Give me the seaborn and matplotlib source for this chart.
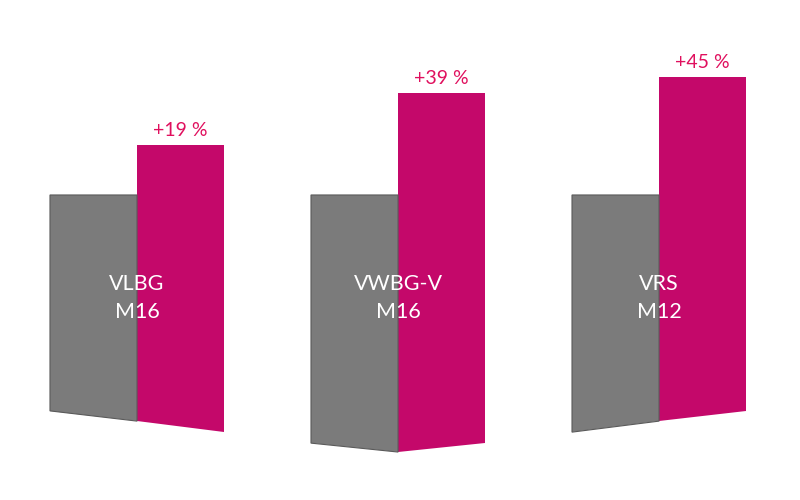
import matplotlib
matplotlib.use("Agg")
import matplotlib.pyplot as plt
from matplotlib.patches import Polygon
import seaborn as sns
import pandas as pd

# ---- data ----
regions = ["VLBG\nM16", "VWBG-V\nM16", "VRS\nM12"]
before = [100, 100, 100]
after = [119, 139, 145]
increase_labels = ["+19 %", "+39 %", "+45 %"]

# ---- style: perspective slant of the bar bottoms (left, middle, right) ----
bottom_slant = [(17.6, 13.7, 9.5), (5.3, 1.9, 5.3), (9.5, 13.7, 17.6)]
gray = "#7b7b7b"
magenta = "#c4086a"
label_pink = "#e0105e"

df = pd.DataFrame({
    "region": regions * 2,
    "series": ["before"] * 3 + ["after"] * 3,
    "value": before + after,
})

sns.set_theme(style="white")
plt.rcParams["font.family"] = ["Lato", "DejaVu Sans"]

fig = plt.figure(figsize=(8, 5), dpi=100)
ax = fig.add_axes([0, 0, 1, 1])
sns.barplot(data=df, x="region", y="value", hue="series",
            palette={"before": gray, "after": magenta},
            width=0.667, saturation=1, legend=False, ax=ax,
            linewidth=0)

for si, cont in enumerate(ax.containers):
    for i, bar in enumerate(cont):
        x0 = bar.get_x()
        w = bar.get_width()
        h = bar.get_height()
        l, m, r = bottom_slant[i]
        if si == 0:
            yl, yr = l, m
        else:
            yl, yr = m, r
        verts = [(x0, yl), (x0, h), (x0 + w, h), (x0 + w, yr)]
        clip = Polygon(verts, closed=True, transform=ax.transData)
        bar.set_clip_path(clip)
        if si == 0:
            outline = Polygon(verts, closed=True, fill=False,
                              edgecolor="#5a5a5a", linewidth=0.8,
                              transform=ax.transData)
            ax.add_patch(outline)
        else:
            ax.annotate(increase_labels[i], (x0 + w / 2, h),
                        xytext=(0, 4.5), textcoords="offset points",
                        ha="center", va="bottom", color=label_pink,
                        fontsize=14)

for i, name in enumerate(regions):
    ax.text(i, 60.5, name, ha="center", va="center", color="white",
            fontsize=15.5, linespacing=1.5)

ax.set_xlim(-0.525, 2.540)
ax.set_ylim(-16.4, 174.4)
ax.axis("off")
fig.savefig("out.png", dpi=100, facecolor="white")
